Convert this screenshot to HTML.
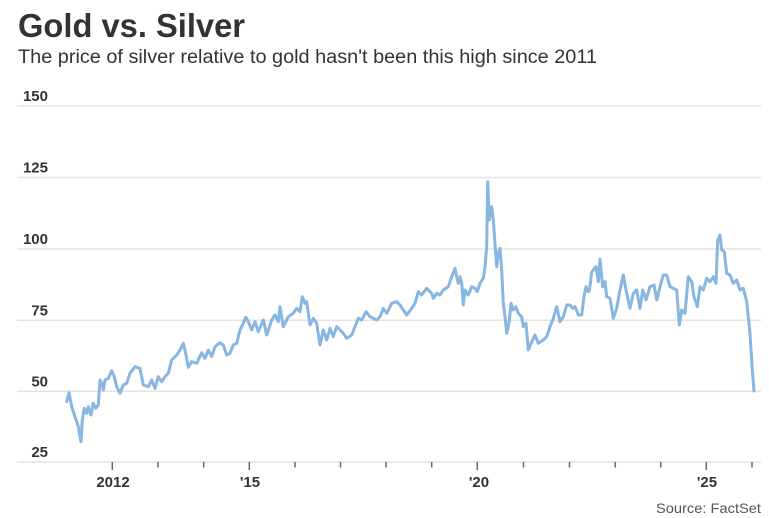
<!DOCTYPE html>
<html>
<head>
<meta charset="utf-8">
<style>
  html,body{margin:0;padding:0;background:#fff;}
  svg{display:block;}
  text{font-family:"Liberation Sans",Arial,sans-serif;}
</style>
</head>
<body>
<svg width="769" height="518" viewBox="0 0 769 518" xmlns="http://www.w3.org/2000/svg">
  <rect width="769" height="518" fill="#fff"/>
  <text x="18" y="37" font-size="33" font-weight="bold" fill="#333" textLength="227" lengthAdjust="spacingAndGlyphs">Gold vs. Silver</text>
  <text x="18" y="63" font-size="19" fill="#333" textLength="579" lengthAdjust="spacingAndGlyphs">The price of silver relative to gold hasn't been this high since 2011</text>

  <!-- gridlines -->
  <g stroke="#e4e4e4" stroke-width="1.6">
    <line x1="17" y1="106" x2="761" y2="106"/>
    <line x1="17" y1="177.5" x2="761" y2="177.5"/>
    <line x1="17" y1="249" x2="761" y2="249"/>
    <line x1="17" y1="320.3" x2="761" y2="320.3"/>
    <line x1="17" y1="391.3" x2="761" y2="391.3"/>
    <line x1="17" y1="462" x2="761" y2="462"/>
  </g>

  <!-- y labels -->
  <g font-size="15" font-weight="bold" fill="#333" text-anchor="end">
    <text x="48" y="101">150</text>
    <text x="48" y="172.5">125</text>
    <text x="48" y="244">100</text>
    <text x="48" y="315.3">75</text>
    <text x="48" y="386.3">50</text>
    <text x="48" y="457">25</text>
  </g>

  <!-- ticks -->
  <g stroke="#666" stroke-width="1.5">
    <line x1="112.3" y1="462" x2="112.3" y2="470"/>
    <line x1="158" y1="462" x2="158" y2="467.5"/>
    <line x1="203.7" y1="462" x2="203.7" y2="467.5"/>
    <line x1="249.3" y1="462" x2="249.3" y2="470"/>
    <line x1="295" y1="462" x2="295" y2="467.5"/>
    <line x1="340.5" y1="462" x2="340.5" y2="467.5"/>
    <line x1="386" y1="462" x2="386" y2="467.5"/>
    <line x1="431.7" y1="462" x2="431.7" y2="467.5"/>
    <line x1="477.3" y1="462" x2="477.3" y2="470"/>
    <line x1="523.5" y1="462" x2="523.5" y2="467.5"/>
    <line x1="569.5" y1="462" x2="569.5" y2="467.5"/>
    <line x1="615.3" y1="462" x2="615.3" y2="467.5"/>
    <line x1="660.7" y1="462" x2="660.7" y2="467.5"/>
    <line x1="706.3" y1="462" x2="706.3" y2="470"/>
    <line x1="752" y1="462" x2="752" y2="467.5"/>
  </g>

  <!-- x labels -->
  <g font-size="15" font-weight="bold" fill="#333" text-anchor="middle">
    <text x="113" y="487">2012</text>
    <text x="250" y="487">'15</text>
    <text x="479" y="487">'20</text>
    <text x="707" y="487">'25</text>
  </g>

  <!-- series -->
  <polyline fill="none" stroke="#88b6e2" stroke-width="3" stroke-linejoin="round" stroke-linecap="round"
    points="66.7,401.7 69,392.7 71.7,406.7 75,416.7 78.3,426.7 81,441.7 82.3,420 84.3,408.3 86.7,413.3 88.3,406.7 91,415 93.3,403.3 95.7,408.3 98.3,405 100,380 101.7,383.3 103.3,390 105,380 108.3,378.3 111.7,370.7 114.3,376.7 116.7,386.7 120,393.3 123.3,385 126.7,383.3 130,373.3 135,366.7 140,368.3 143.3,385 148.3,386.7 151.7,380 155,388.3 158.3,376.7 161.7,381.7 165,376.7 168.3,373.3 171.7,360 176.7,355 180,350 183.3,343.3 185.7,353.3 188.3,367.3 191.7,361.7 196.7,363.3 201.7,352.7 205,358.3 208.3,350 211.7,356.7 215,346.7 220,342.7 223.3,345 226.7,355 230,353.3 233.3,345 236.7,343.3 240,330 243.3,323.3 245.7,317.3 248.3,321.7 251.7,330 255,321.7 258.3,331.7 263.3,320 266.7,335 271.7,320 275,315 278.3,321.7 280,306.7 283.3,326.7 288.3,316.7 293.3,313.3 296.7,308.3 300,311.7 302.3,296.7 305,303.3 306.7,301.7 310,325 313.3,318.3 316.7,323.3 320,345 323.3,330 326.7,340 330,328.3 333.3,336.7 336.7,326.7 340,330 343.3,333.3 346.7,338.3 351.7,335 355,326.7 358.3,318.3 361.7,320 366,311.7 370,316.7 373.3,318.3 376.7,320 380,316.7 383.3,308.3 386.7,313.3 391.7,303.3 396.7,301.7 400,305 403.3,310 406.7,315 411.7,308.3 415,303.3 418.3,291.7 421.7,295 426.7,288.3 431.7,293.3 433.3,298.3 436.7,293.3 440,295 443.3,290 448.3,286.7 451.7,276.7 455,268.3 456.7,276.7 458.3,283.3 460,276.7 461.7,283.3 463.3,305 465,290 468.3,295 471.7,286.7 475,288.3 477.3,291.7 480,283.3 483.3,278.3 485,266.7 486.7,246.7 487.7,181.7 489.3,220 491.7,206.7 493.3,220 495,243.3 496.7,266.7 498.3,253.3 500,248.3 501.7,270 503.3,303.3 505,316.7 506.7,333.3 509,323.3 511,303.3 513.3,310 515.7,306.7 518.3,313.3 521.7,316.7 523.3,326.7 526,323.3 528.3,350 531,343.3 535,335 538.3,343.3 543.3,340 546.7,336.7 550,326.7 553.3,318.3 556.7,306.7 560,321.7 563.3,316.7 566.7,305 570,305 572.7,308.3 575,306.7 578.3,315 581.7,315 584,296.7 586,286.7 588.3,291.7 589.5,290 591.7,272 593.3,270 596,266.7 598.3,281.7 600,259.3 602.7,286.7 605,281.7 606.7,296.7 610,298.3 613.3,318.3 616.7,308.3 620,290 623.3,275 626,290 630,308.3 633.3,293.3 636.7,290 640,308.3 642.7,290 646,300 650,286.7 654,285 656.7,300 660,286.7 663.3,275 666.7,275 670,286.7 673.3,288.3 676.7,290 679.3,325 681.7,310 685,313.3 688.3,276.7 691.7,281.7 694,296.7 697.3,306.7 700,286.7 703.3,290 706.7,278.3 710,281.7 713.3,276.7 716,283.3 717.7,240 720,235 721.7,250 724.3,251.7 726.7,273.3 730,275 733.3,283.3 736.7,280 740,290 743.3,288.3 746.7,301.7 750,333.3 752.3,370 754,391"/>

  <text x="761" y="513" font-size="14" fill="#555" text-anchor="end" textLength="105" lengthAdjust="spacingAndGlyphs">Source: FactSet</text>
</svg>
</body>
</html>
